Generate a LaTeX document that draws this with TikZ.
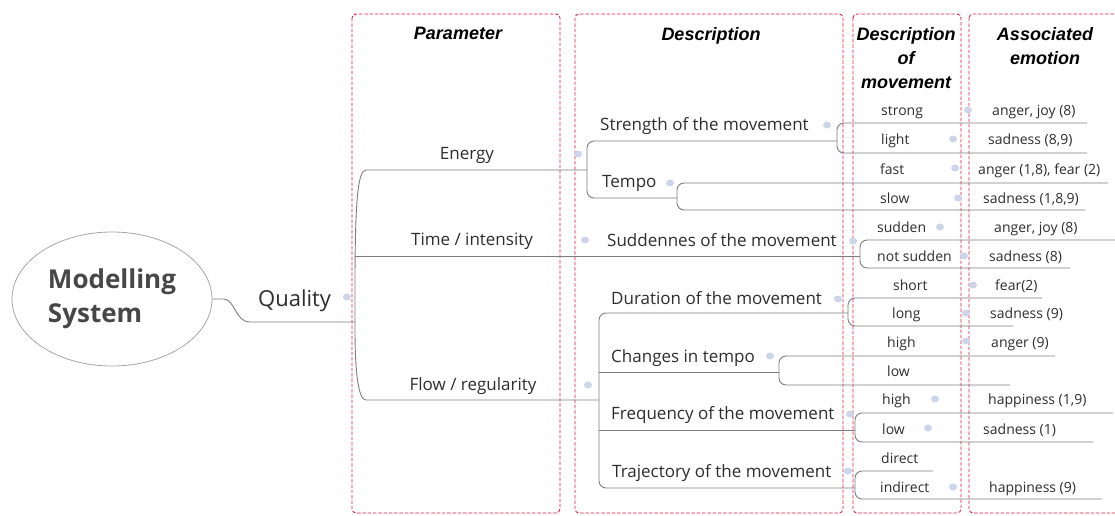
\documentclass[tikz,border=0pt]{standalone}
\usepackage{fontspec}
\setmainfont{Open Sans}
\newfontfamily\headfont{Liberation Sans}
\usetikzlibrary{shapes.geometric}

\definecolor{boxred}{RGB}{226,28,66}
\definecolor{linegray}{RGB}{125,125,125}
\definecolor{txtgray}{RGB}{45,45,45}
\definecolor{togblue}{RGB}{205,214,232}

% fork of a topic: bracket x, top y, bottom y, end of top line, end of bottom line
\newcommand{\mmfork}[5]{%
  \draw[mmline,rounded corners=7pt] (#4,#2) -- (#1,#2) -- (#1,#3) -- (#5,#3);}

\begin{document}
\begin{tikzpicture}[x=1pt,y=-1pt,
  colbox/.style={draw=boxred,dash pattern=on 3.5pt off 1.8pt,rounded corners=4pt,line width=0.9pt},
  head/.style={font=\headfont\bfseries\itshape\fontsize{18}{24}\selectfont,align=center,inner sep=0pt,anchor=north},
  topic/.style={anchor=base west,inner sep=0pt,text=txtgray,font=\fontsize{17}{20}\selectfont},
  leaf/.style={anchor=base west,inner sep=0pt,text=txtgray,font=\fontsize{14}{16}\selectfont},
  mmline/.style={draw=linegray,line width=0.9pt},
  toggle/.style={ellipse,fill=togblue,inner sep=0pt,minimum width=8pt,minimum height=7pt}]

\useasboundingbox (0,0) rectangle (1115,516);

% columns
\draw[colbox] (352,14) rectangle (560,513);
\draw[colbox] (575,14) rectangle (843,513);
\draw[colbox] (853,14) rectangle (961,513);
\draw[colbox] (969,14) rectangle (1125,513);

\node[head] (hpar) at (458,27) {Parameter};
\node[head] (hdes) at (711,27) {Description};
\node[head] (hmov) at (906,27) {Description\\of\\movement};
\node[head] (hemo) at (1045,27) {Associated\\emotion};

% root
\node[ellipse,draw=gray!70,line width=0.8pt,minimum width=200pt,minimum height=134pt,
  align=left,text=black!72,font=\bfseries\fontsize{26}{34}\selectfont] (root) at (112,299) {Modelling\\System};
\node[topic,font=\fontsize{22}{25}\selectfont] (quality) at (258,306) {Quality};

% lines
\draw[mmline] (root.east) -- ++(11,0) .. controls (235,299) and (235,322) .. (250,322) -- (355,322);
\draw[mmline] (587,170) -- (366,170) .. controls (358,170) and (355,200) .. (355,285) -- (355,330)
  .. controls (355,370) and (358,400) .. (366,400) -- (599,400);
\draw[mmline] (355,256) -- (860,256);
\mmfork{587}{141}{198}{837}{677}
\mmfork{837}{123}{153}{1087}{1087}
\mmfork{677}{183}{210}{1108}{1085}
\mmfork{860}{240}{268}{1125}{1070}
\mmfork{599}{313}{488}{848}{855}
\draw[mmline] (599,372) -- (779,372);
\draw[mmline] (599,430) -- (855,430);
\mmfork{848}{298}{326}{1042}{1013}
\mmfork{779}{356}{385}{1055}{1010}
\mmfork{855}{413}{442}{1113}{1093}
\mmfork{855}{471}{499}{933}{1102}

% parameters
\node[topic,anchor=base] (energy) at (467,159) {Energy};
\node[topic,anchor=base] (time) at (472,245) {Time / intensity};
\node[topic,anchor=base] (flow) at (473,390) {Flow / regularity};

% descriptions
\node[topic] (strength) at (600,130) {Strength of the movement};
\node[topic] (tempo) at (602,187) {Tempo};
\node[topic] (sudd) at (607,246) {Suddennes of the movement};
\node[topic] (duration) at (611,304) {Duration of the movement};
\node[topic] (changes) at (611,362) {Changes in tempo};
\node[topic] (freq) at (611,419) {Frequency of the movement};
\node[topic] (traj) at (612,477) {Trajectory of the movement};

% description of movement
\node[leaf] (strong) at (881,115) {strong};
\node[leaf] (light) at (881,144) {light};
\node[leaf] (fast) at (880,174) {fast};
\node[leaf] (slow) at (880,203) {slow};
\node[leaf] (sudden) at (877,232) {sudden};
\node[leaf] (notsudden) at (877,261) {not sudden};
\node[leaf] (short) at (893,290) {short};
\node[leaf] (long) at (892,318) {long};
\node[leaf] (chhigh) at (887,347) {high};
\node[leaf] (chlow) at (887,376) {low};
\node[leaf] (frhigh) at (882,404) {high};
\node[leaf] (frlow) at (882,434) {low};
\node[leaf] (direct) at (881,463) {direct};
\node[leaf] (indirect) at (880,492) {indirect};

% associated emotion
\node[leaf] (emstrong) at (992,115) {anger, joy (8)};
\node[leaf] (emlight) at (988,144) {sadness (8,9)};
\node[leaf] (emfast) at (978,174) {anger (1,8), fear (2)};
\node[leaf] (emslow) at (983,203) {sadness (1,8,9)};
\node[leaf] (emsudden) at (994,232) {anger, joy (8)};
\node[leaf] (emnotsudden) at (989,261) {sadness (8)};
\node[leaf] (emshort) at (995,290) {fear(2)};
\node[leaf] (emlong) at (990,318) {sadness (9)};
\node[leaf] (emchhigh) at (991,347) {anger (9)};
\node[leaf] (emfrhigh) at (988,404) {happiness (1,9)};
\node[leaf] (emfrlow) at (983,434) {sadness (1)};
\node[leaf] (emindirect) at (989,492) {happiness (9)};

% collapse toggles
\foreach \tx/\ty [count=\i] in {347/297,578/154,585/240,588/385,827/125,670/183,853/241,
  838/299,770/356,850/414,848/471,968/110,953/139,955/168,958/198,940/227,964/256,
  973/285,966/313,966/341,935/399,928/428,953/487}
  \node[toggle] (tog\i) at (\tx,\ty) {};
\end{tikzpicture}
\end{document}
